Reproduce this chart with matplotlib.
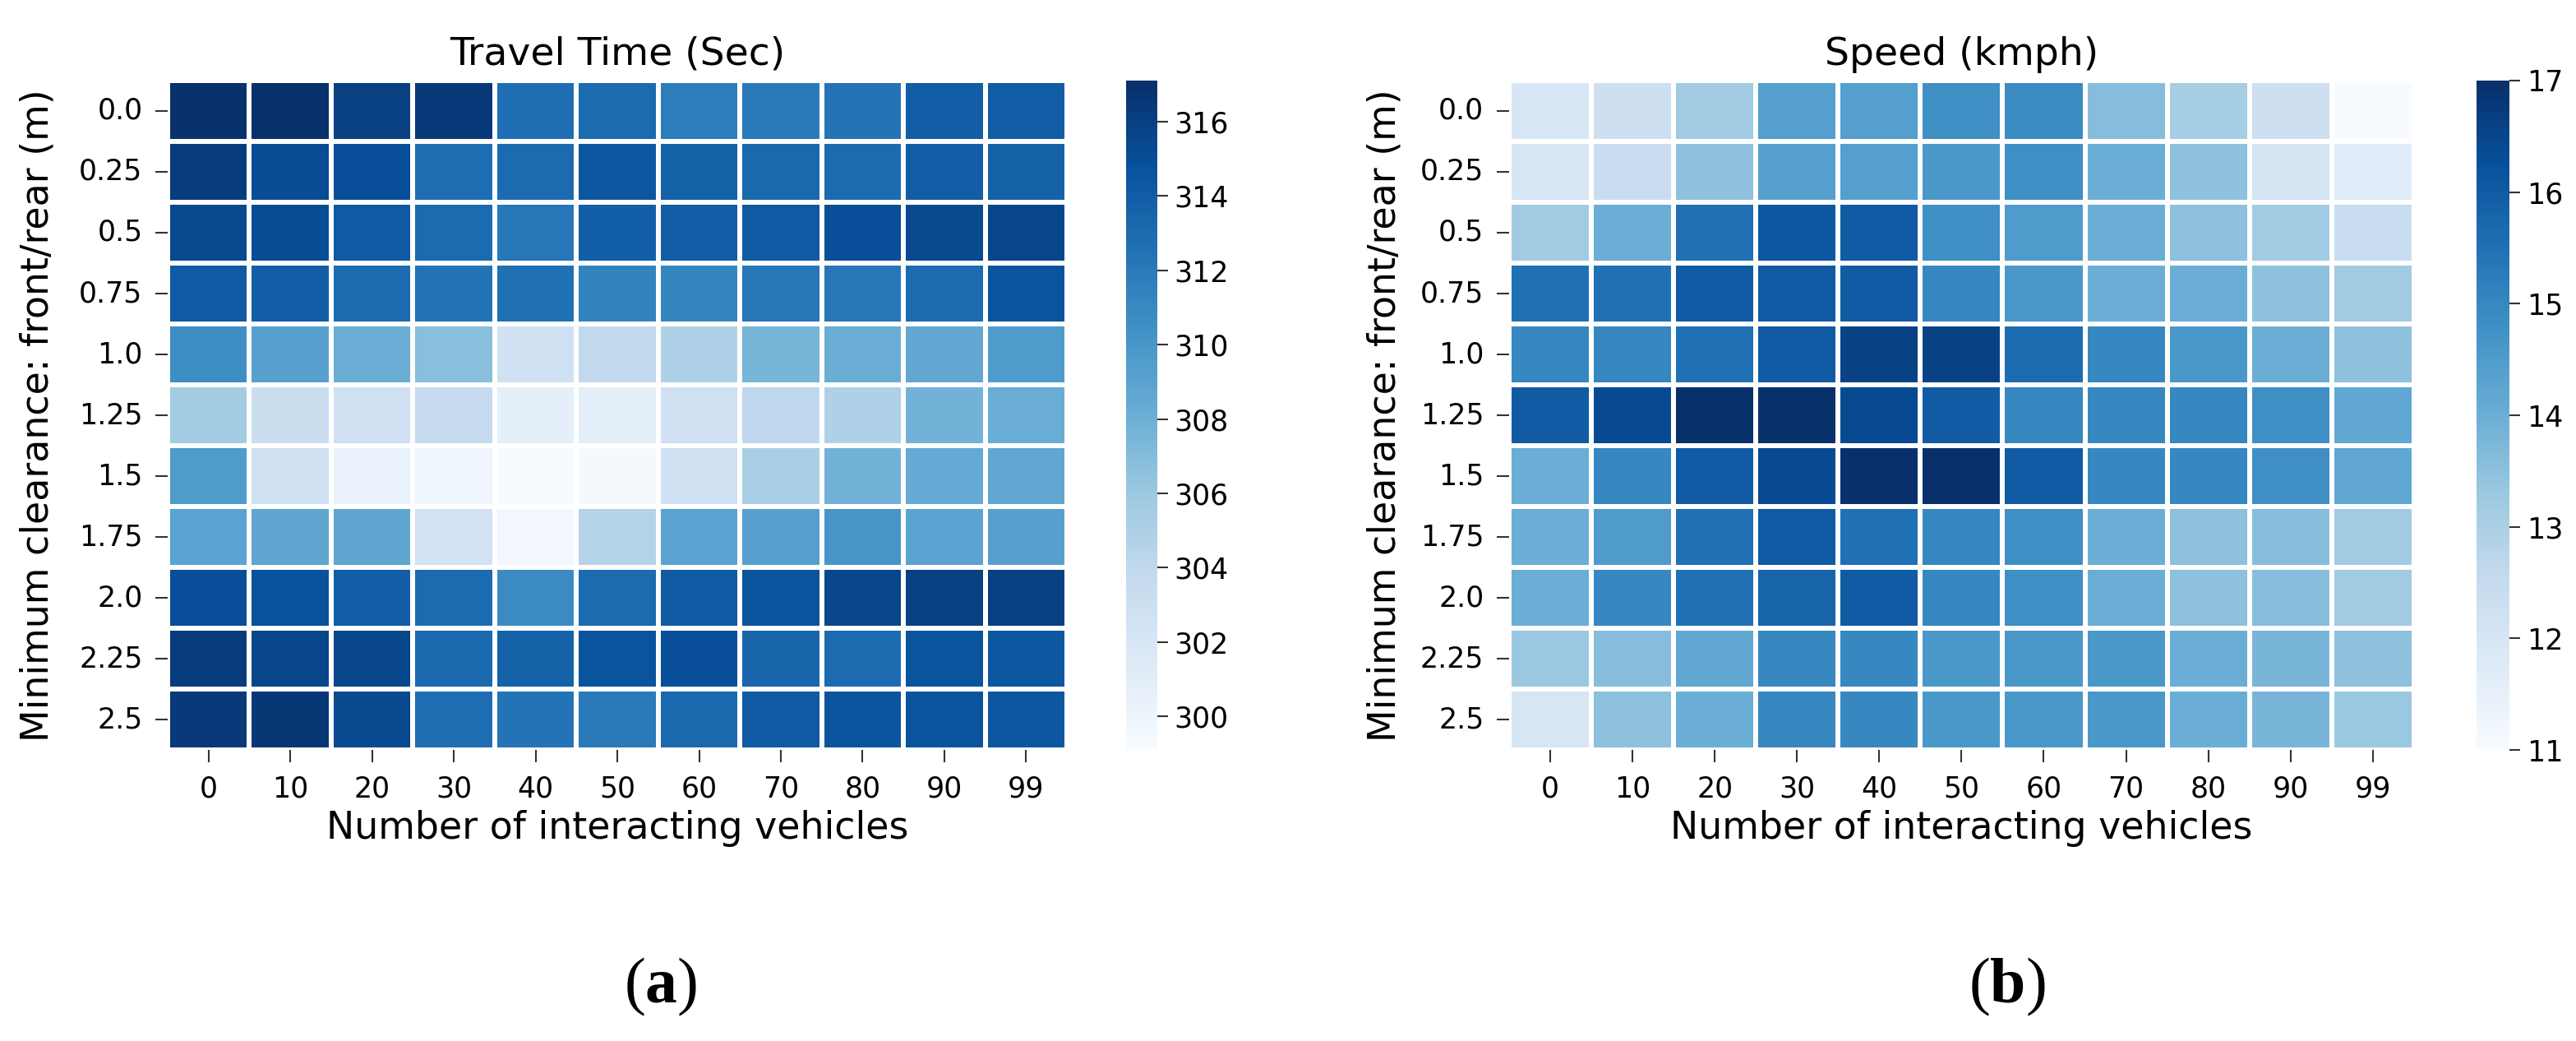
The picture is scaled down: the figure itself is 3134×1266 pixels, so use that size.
import matplotlib
matplotlib.use("Agg")
import matplotlib.pyplot as plt
import numpy as np
import seaborn as sns

# clearance values (rows) and number of interacting vehicles (columns)
clearance = ['0.0', '0.25', '0.5', '0.75', '1.0', '1.25', '1.5', '1.75', '2.0', '2.25', '2.5']
vehicles = ['0', '10', '20', '30', '40', '50', '60', '70', '80', '90', '99']

# travel time (sec)
travel_time = [
    [317.0, 317.1, 316.0, 316.4, 312.8, 313.0, 311.8, 312.0, 312.4, 314.0, 314.0],
    [316.2, 315.2, 315.0, 312.8, 313.0, 314.4, 313.6, 313.2, 313.0, 314.0, 313.6],
    [315.4, 315.2, 314.2, 313.0, 312.2, 313.8, 314.0, 314.2, 315.0, 315.4, 315.6],
    [314.2, 314.0, 313.0, 312.4, 312.6, 311.4, 311.2, 312.2, 312.2, 313.0, 314.6],
    [310.6, 309.2, 308.2, 306.8, 302.8, 303.8, 305.0, 307.6, 308.2, 308.6, 309.6],
    [305.6, 303.2, 302.8, 303.6, 300.8, 300.8, 302.8, 304.0, 305.0, 307.8, 308.2],
    [309.6, 302.8, 300.4, 300.0, 299.1, 299.4, 302.8, 305.2, 307.8, 308.4, 308.6],
    [309.0, 308.8, 308.8, 302.6, 299.6, 304.6, 309.0, 309.2, 310.0, 309.0, 309.2],
    [315.0, 314.8, 314.0, 313.0, 310.8, 313.0, 314.2, 314.6, 315.6, 316.0, 316.0],
    [316.2, 315.6, 315.6, 313.2, 313.6, 314.6, 315.0, 313.4, 313.0, 314.6, 314.4],
    [316.4, 316.6, 315.4, 312.8, 312.4, 312.0, 313.2, 314.2, 314.6, 314.6, 314.4],
]

# speed (kmph)
speed = [
    [12.0, 12.3, 13.2, 14.4, 14.4, 14.8, 14.9, 13.6, 13.1, 12.3, 11.0],
    [12.0, 12.4, 13.5, 14.4, 14.4, 14.6, 14.8, 14.0, 13.5, 12.1, 11.7],
    [13.2, 14.0, 15.5, 16.1, 16.0, 14.8, 14.5, 14.0, 13.5, 13.2, 12.4],
    [15.5, 15.5, 16.0, 16.0, 16.0, 15.0, 14.6, 14.0, 14.0, 13.5, 13.2],
    [15.0, 15.0, 15.5, 16.0, 16.6, 16.6, 15.6, 15.0, 14.6, 14.0, 13.5],
    [16.0, 16.4, 17.0, 17.0, 16.4, 16.0, 15.0, 15.0, 15.0, 14.8, 14.2],
    [14.0, 15.0, 16.0, 16.4, 17.0, 17.0, 16.0, 15.0, 15.0, 14.8, 14.2],
    [14.0, 14.5, 15.5, 16.0, 15.5, 15.0, 14.8, 14.0, 13.5, 13.6, 13.2],
    [14.0, 15.0, 15.5, 15.8, 16.0, 15.0, 14.8, 14.0, 13.5, 13.6, 13.2],
    [13.3, 13.6, 14.2, 15.0, 15.0, 14.6, 14.6, 14.6, 14.0, 13.8, 13.5],
    [12.0, 13.5, 14.0, 15.0, 15.0, 14.6, 14.6, 14.6, 14.0, 13.8, 13.3],
]

plt.rcParams['font.family'] = 'DejaVu Sans'
plt.rcParams['mathtext.fontset'] = 'custom'
plt.rcParams['mathtext.rm'] = 'Liberation Serif'
plt.rcParams['mathtext.bf'] = 'Liberation Serif:bold'

fig = plt.figure(figsize=(31.34, 12.66), dpi=100)

panels = [
    (travel_time, 'Travel Time (Sec)', [0.0651, 0.2796, 0.3491, 0.643], [0.4371, 0.2796, 0.0121, 0.643],
     [300, 302, 304, 306, 308, 310, 312, 314, 316], r'$(\mathbf{a})$', 0.2565, -0.124),
    (speed, 'Speed (kmph)', [0.5858, 0.2796, 0.3513, 0.643], [0.9614, 0.2796, 0.0128, 0.643],
     [11, 12, 13, 14, 15, 16, 17], r'$(\mathbf{b})$', 0.7792, -0.117),
]

for data, title, pos, cpos, cticks, tag, tag_x, ylab_x in panels:
    ax = fig.add_axes(pos)
    cax = fig.add_axes(cpos)
    sns.heatmap(np.array(data), ax=ax, cbar_ax=cax, cmap='Blues',
                linewidths=3, linecolor='white',
                xticklabels=vehicles, yticklabels=clearance)
    ax.set_title(title, fontsize=34, pad=14)
    ax.set_xlabel('Number of interacting vehicles', fontsize=33, labelpad=6)
    ax.set_ylabel('Minimum clearance: front/rear (m)', fontsize=33)
    ax.yaxis.set_label_coords(ylab_x, 0.5)
    ax.tick_params(axis='both', labelsize=25, length=11, width=1.5, pad=11, color='#333333')
    ax.tick_params(axis='y', rotation=0)
    ax.tick_params(axis='x', rotation=0)
    cbar = ax.collections[0].colorbar
    cbar.set_ticks(cticks)
    cbar.outline.set_visible(False)
    cax.tick_params(labelsize=25, length=9, width=1.5, pad=6, color='#333333')
    fig.text(tag_x, 0.052, tag, fontsize=56, ha='center', va='center')

fig.savefig('out.png', dpi=100)
